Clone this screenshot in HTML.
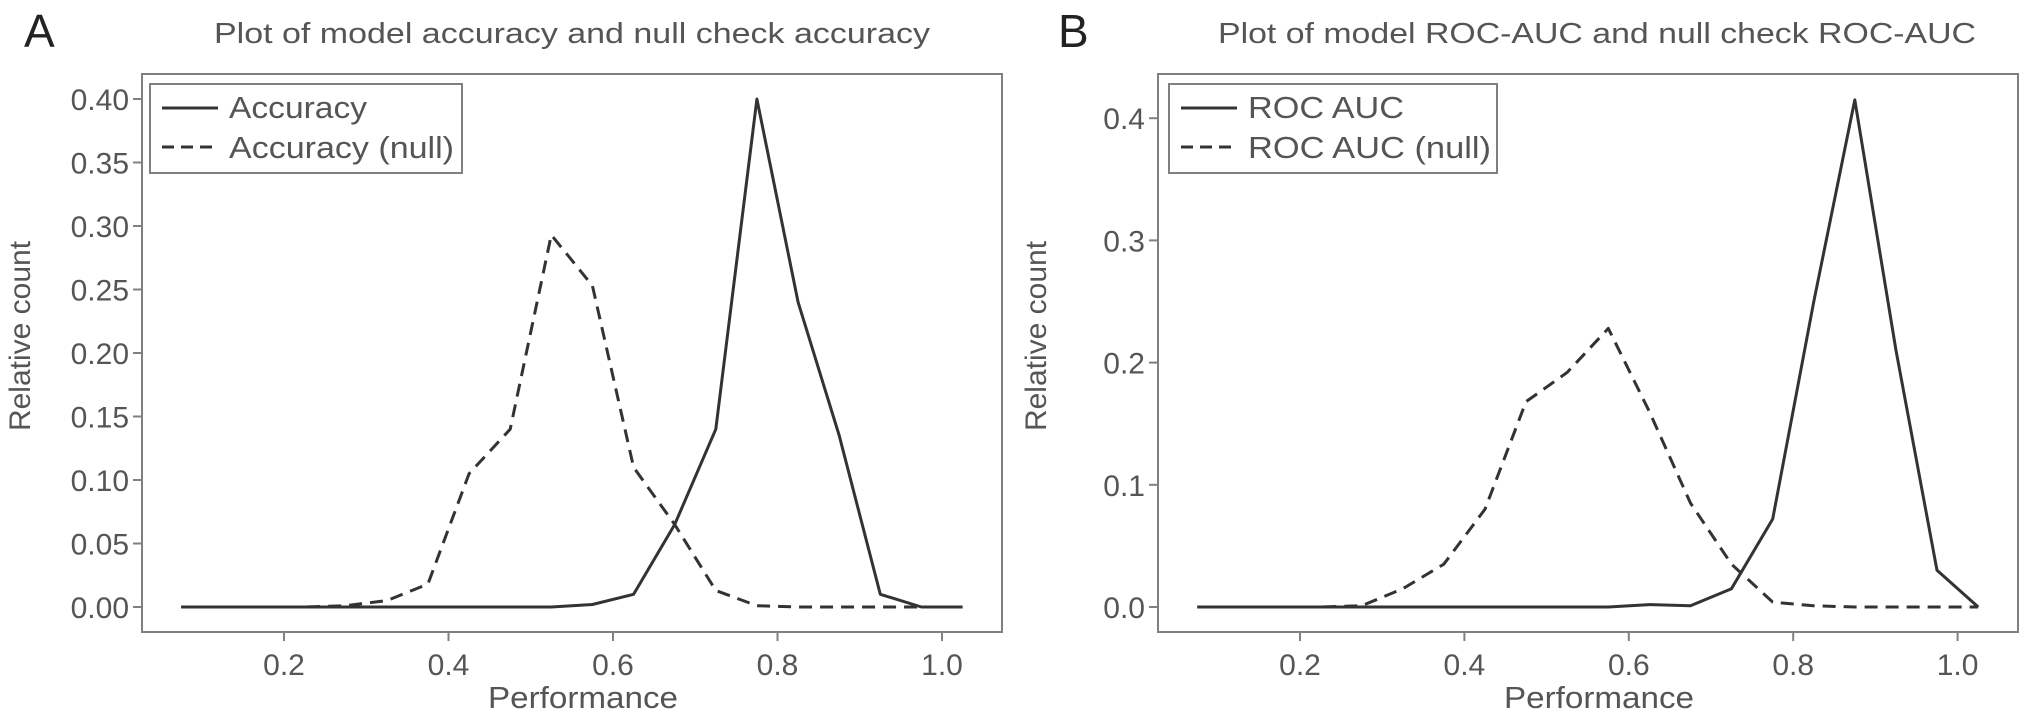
<!DOCTYPE html>
<html><head><meta charset="utf-8"><style>
html,body{margin:0;padding:0;background:#fff;}
svg{display:block;font-family:"Liberation Sans",sans-serif;}
</style></head><body>
<svg id="fig" width="2032" height="723" viewBox="0 0 2032 723" xmlns="http://www.w3.org/2000/svg"></svg>
<script>
const bins = [0.075,0.125,0.175,0.225,0.275,0.325,0.375,0.425,0.475,0.525,0.575,0.625,0.675,0.725,0.775,0.825,0.875,0.925,0.975,1.025];
const accValues =     [0,0,0,0,0,0,0,0,0,0,0.002,0.01,0.065,0.14,0.40,0.24,0.135,0.01,0,0];
const accNullValues = [0,0,0,0,0.001,0.005,0.018,0.105,0.14,0.293,0.253,0.11,0.065,0.013,0.001,0,0,0,0,0];
const rocValues =     [0,0,0,0,0,0,0,0,0,0,0,0.002,0.001,0.015,0.072,0.25,0.415,0.21,0.03,0];
const rocNullValues = [0,0,0,0,0.001,0.015,0.035,0.08,0.168,0.192,0.228,0.16,0.085,0.035,0.004,0.001,0,0,0,0];
const xTicks = [0.2,0.4,0.6,0.8,1.0];
const xTickLabels = ["0.2","0.4","0.6","0.8","1.0"];
const accYTicks = [0,0.05,0.10,0.15,0.20,0.25,0.30,0.35,0.40];
const accYTickLabels = ["0.00","0.05","0.10","0.15","0.20","0.25","0.30","0.35","0.40"];
const rocYTicks = [0,0.1,0.2,0.3,0.4];
const rocYTickLabels = ["0.0","0.1","0.2","0.3","0.4"];

const NS="http://www.w3.org/2000/svg";
const svg=document.getElementById('fig');
function mk(tag,attrs,parent){const e=document.createElementNS(NS,tag);for(const k in attrs)e.setAttribute(k,attrs[k]);(parent||svg).appendChild(e);return e;}

function panel(cfg){
  const g=mk('g',{});
  
  
  const X=v=>cfg.x0+(v-0.2)*cfg.xs;
  const Y=v=>607-v*cfg.ys;
  const fr=mk('rect',{x:cfg.left,y:74,width:860,height:558,fill:'none',stroke:'#808080','stroke-width':2},g);
  
  
  const lt=mk('text',{x:cfg.letterX,y:47,'font-size':46,fill:'#222'},g);
  lt.textContent=cfg.letter;
  
  
  const tt=mk('text',{x:cfg.titleX,y:43,'font-size':29,fill:'#555','text-anchor':'middle',textLength:cfg.titleW,lengthAdjust:'spacingAndGlyphs'},g);
  tt.textContent=cfg.title;
  
  
  xTicks.forEach((v,i)=>{
    mk('line',{x1:X(v),x2:X(v),y1:632,y2:641,stroke:'#808080','stroke-width':2},g);
    const t=mk('text',{x:X(v),y:675,'font-size':30,fill:'#555','text-anchor':'middle'},g);
    t.textContent=xTickLabels[i];
    
    
  });
  cfg.yTicks.forEach((v,i)=>{
    mk('line',{x1:cfg.left-9,x2:cfg.left,y1:Y(v),y2:Y(v),stroke:'#808080','stroke-width':2},g);
    const t=mk('text',{x:cfg.left-13,y:Y(v)+11,'font-size':30,fill:'#555','text-anchor':'end'},g);
    t.textContent=cfg.yLabels[i];
    
    
  });
  const xt=mk('text',{x:cfg.left+441,y:708,'font-size':31,fill:'#555','text-anchor':'middle',textLength:190,lengthAdjust:'spacingAndGlyphs'},g);
  xt.textContent='Performance';
  
  
  const yt=mk('text',{x:0,y:0,'font-size':30,fill:'#555','text-anchor':'middle',transform:`translate(${cfg.left-112},336) rotate(-90)`},g);
  yt.textContent='Relative count';
  
  
  const pts=a=>a.map((v,i)=>X(bins[i]).toFixed(1)+','+Y(v).toFixed(1)).join(' ');
  const ln=mk('polyline',{points:pts(cfg.main),fill:'none',stroke:'#333','stroke-width':3,'stroke-linejoin':'round'},g);
  
  
  const dn=mk('polyline',{points:pts(cfg.nul),fill:'none',stroke:'#333','stroke-width':3,'stroke-dasharray':'13,8','stroke-linejoin':'round'},g);
  
  
  const lg=mk('g',{},g);
  
  
  mk('rect',{x:cfg.legX,y:84,width:cfg.legW,height:89,fill:'#fff',stroke:'#808080','stroke-width':2},lg);
  mk('line',{x1:cfg.legX+12,x2:cfg.legX+68,y1:108,y2:108,stroke:'#333','stroke-width':3},lg);
  mk('line',{x1:cfg.legX+12,x2:cfg.legX+68,y1:147,y2:147,stroke:'#333','stroke-width':3,'stroke-dasharray':'12,7'},lg);
  const l1=mk('text',{x:cfg.legX+79,y:118,'font-size':31,fill:'#555',textLength:cfg.leg1W,lengthAdjust:'spacingAndGlyphs'},lg);
  l1.textContent=cfg.leg1;
  
  
  const l2=mk('text',{x:cfg.legX+79,y:158,'font-size':31,fill:'#555',textLength:cfg.leg2W,lengthAdjust:'spacingAndGlyphs'},lg);
  l2.textContent=cfg.leg2;
  
  
}
panel({name:'panel-a-accuracy',left:142,x0:284,xs:822.5,ys:1270,yTicks:accYTicks,yLabels:accYTickLabels,
  letter:'A',letterX:24,title:'Plot of model accuracy and null check accuracy',titleX:572,titleW:716,
  main:accValues,nul:accNullValues,legX:150,legW:312,leg1:'Accuracy',leg2:'Accuracy (null)',leg1W:138,leg2W:225});
panel({name:'panel-b-roc-auc',left:1158,x0:1300,xs:822,ys:1222,yTicks:rocYTicks,yLabels:rocYTickLabels,
  letter:'B',letterX:1058,title:'Plot of model ROC-AUC and null check ROC-AUC',titleX:1597,titleW:758,
  main:rocValues,nul:rocNullValues,legX:1169,legW:328,leg1:'ROC AUC',leg2:'ROC AUC (null)',leg1W:156,leg2W:243});
</script>
</body></html>
